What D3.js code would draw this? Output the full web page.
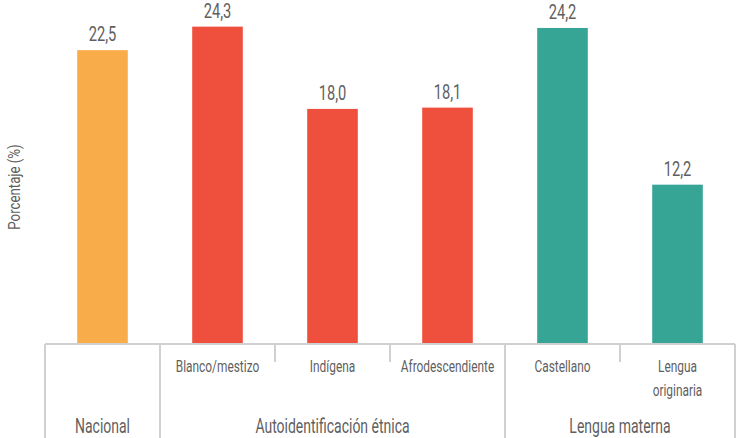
<!DOCTYPE html>
<html>
<head>
<meta charset="utf-8">
<script src="https://cdn.jsdelivr.net/npm/d3@7"></script>
<style>
  body { margin: 0; background: #fff; }
  text { font-family: Roboto, "Noto Sans", sans-serif; fill: #5f5f5f; }
</style>
</head>
<body>
<svg id="chart" width="737" height="438"></svg>
<script>
// data
const categories = ["Nacional", "Blanco/mestizo", "Indígena", "Afrodescendiente", "Castellano", "Lengua originaria"];
const values = [22.5, 24.3, 18.0, 18.1, 24.2, 12.2];
const groupOf = ["Nacional", "Autoidentificación étnica", "Autoidentificación étnica", "Autoidentificación étnica", "Lengua materna", "Lengua materna"];
const groups = ["Nacional", "Autoidentificación étnica", "Lengua materna"];
const groupColors = ["#f9ad4a", "#ef4f3d", "#36a595"];
// sub labels shown above the group row (Nacional has none)
const subLabels = [[], ["Blanco/mestizo"], ["Indígena"], ["Afrodescendiente"], ["Castellano"], ["Lengua", "originaria"]];

const svg = d3.select("#chart");
const left = 45, right = 735, baseY = 344;
const squeeze = 0.7; // the original uses a condensed face, so narrow Roboto

const x = d3.scaleBand().domain(categories).range([left, right]).paddingInner(0.56).paddingOuter(0.28);
const band = d3.scaleBand().domain(categories).range([left, right]);
const y = d3.scaleLinear().domain([0, 26.34]).range([baseY, 0]);
const color = d3.scaleOrdinal().domain(groups).range(groupColors);

// condensed text helper
function label(parent, tx, ty, str, size, rot) {
  return parent.append("text")
    .attr("transform", `translate(${tx},${ty})` + (rot ? ` rotate(${rot})` : "") + ` scale(${squeeze},1)`)
    .attr("text-anchor", "middle")
    .attr("font-size", size + "px")
    .text(str);
}

// bars
svg.append("g")
  .selectAll("rect")
  .data(categories)
  .join("rect")
  .attr("x", d => x(d))
  .attr("width", x.bandwidth())
  .attr("y", (d, i) => y(values[i]))
  .attr("height", (d, i) => baseY - y(values[i]))
  .attr("fill", (d, i) => color(groupOf[i]));

// value labels
const vals = svg.append("g");
categories.forEach((c, i) => {
  label(vals, x(c) + x.bandwidth() / 2, y(values[i]) - 9, values[i].toFixed(1).replace(".", ","), 21);
});

// axis lines
const axis = svg.append("g").attr("stroke", "#d0d0d0").attr("stroke-width", 2);
axis.append("line").attr("x1", left).attr("x2", right).attr("y1", baseY).attr("y2", baseY);

// separators: long ones between groups, short ones inside a group
const edges = d3.range(categories.length + 1);
axis.selectAll(".sep")
  .data(edges)
  .join("line")
  .attr("class", "sep")
  .attr("x1", i => i < categories.length ? band(categories[i]) : right)
  .attr("x2", i => i < categories.length ? band(categories[i]) : right)
  .attr("y1", baseY)
  .attr("y2", i => (i === 0 || i === categories.length || groupOf[i] !== groupOf[i - 1]) ? 438 : 362);

// sub category labels
const sub = svg.append("g");
categories.forEach((c, i) => {
  subLabels[i].forEach((line, j) => {
    label(sub, band(c) + band.bandwidth() / 2, 372 + j * 24, line, 17);
  });
});

// group labels
const grp = svg.append("g");
groups.forEach(g => {
  const idx = categories.filter((c, i) => groupOf[i] === g);
  const cx = (band(idx[0]) + band(idx[idx.length - 1]) + band.bandwidth()) / 2;
  label(grp, cx, 433, g, 20);
});

// y title
label(svg, 20, 187, "Porcentaje (%)", 17, -90)
  .attr("transform", "translate(20,187) rotate(-90) scale(0.78,1)");
</script>
</body>
</html>
